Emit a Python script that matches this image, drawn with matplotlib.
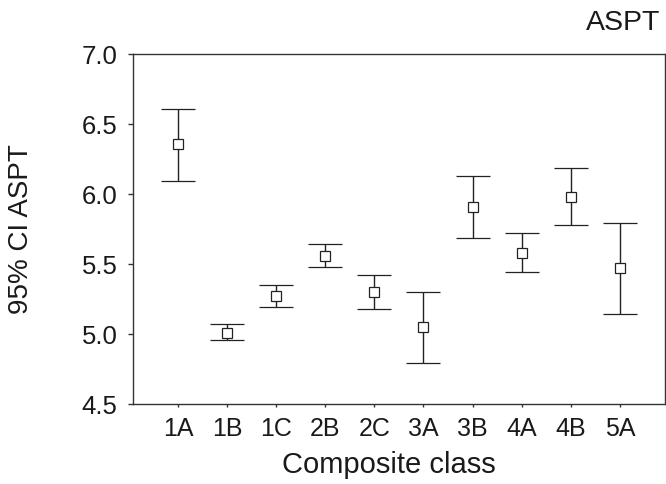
import matplotlib
matplotlib.use('Agg')
import matplotlib.pyplot as plt
import numpy as np

# composite classes and 95% CI of ASPT
classes = ['1A', '1B', '1C', '2B', '2C', '3A', '3B', '4A', '4B', '5A']
means = [6.36, 5.01, 5.27, 5.56, 5.30, 5.05, 5.905, 5.58, 5.975, 5.47]
upper = [6.605, 5.07, 5.35, 5.645, 5.42, 5.30, 6.125, 5.72, 6.185, 5.79]
lower = [6.095, 4.96, 5.19, 5.48, 5.18, 4.79, 5.685, 5.44, 5.775, 5.14]

yticks = [4.5, 5.0, 5.5, 6.0, 6.5, 7.0]

plt.rcParams['font.family'] = ['Liberation Sans', 'DejaVu Sans']
ink = '#1a1a1a'

fig = plt.figure(figsize=(6.66, 4.85), dpi=100)
ax = fig.add_axes([0.1997, 0.165, 0.7988, 0.7216])

x = np.arange(len(classes))
means = np.array(means)
yerr = [means - np.array(lower), np.array(upper) - means]

ax.errorbar(x, means, yerr=yerr, fmt='s', color='#222222', ecolor='#222222',
            elinewidth=1.0, capsize=12.5, capthick=1.0,
            markersize=6.5, markerfacecolor='white', markeredgecolor='#222222',
            markeredgewidth=0.9)

ax.set_xlim(-0.915, 9.92)
ax.set_ylim(4.5, 7.0)
ax.set_xticks(x)
ax.set_xticklabels(classes)
ax.set_yticks(yticks)
ax.set_yticklabels(['%.1f' % v for v in yticks])

ax.tick_params(axis='x', direction='out', length=2.2, width=1, labelsize=18,
               colors='#333333', labelcolor=ink, pad=6.5)
ax.tick_params(axis='y', direction='out', length=3.6, width=1, labelsize=18.5,
               colors='#333333', labelcolor=ink, pad=7.5)
for s in ax.spines.values():
    s.set_linewidth(1.0)
    s.set_color('#333333')

# axis titles placed as in the source figure
fig.text(0.5838, 0.0247, 'Composite class', ha='center', va='baseline',
         fontsize=21, color=ink)
fig.text(0.031, 0.528, '95% CI ASPT', ha='center', va='center', rotation=90,
         fontsize=20, color=ink)
fig.text(0.991, 0.953, 'ASPT', ha='right', va='center', fontsize=20.5, color=ink)

fig.savefig('out.png', dpi=100)
